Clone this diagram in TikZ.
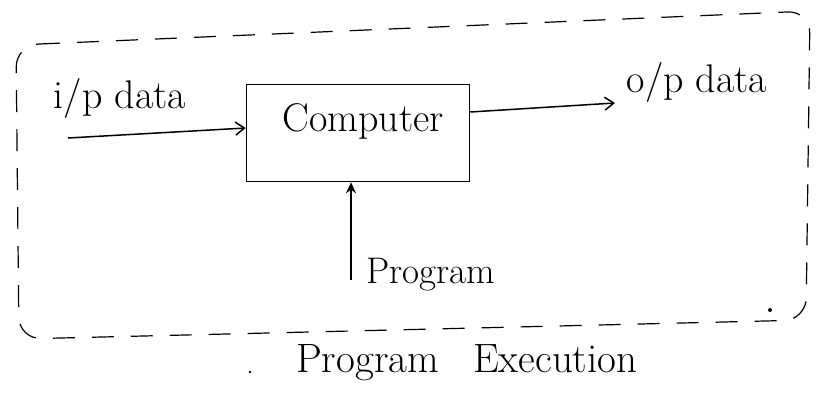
\documentclass[tikz,border=0pt]{standalone}
\usepackage{fontspec}
\usetikzlibrary{arrows.meta}
\begin{document}
\begin{tikzpicture}[x=1pt,y=-1pt,
  ink/.style={line width=1.5pt,black},
  flow/.style={ink,-{Straight Barb[length=9pt,width=13pt]}},
  prog/.style={ink,-{Stealth[length=11pt,width=10pt]}},
  boundary/.style={line width=1.2pt,dash pattern=on 22pt off 17pt,rounded corners=22pt},
  lbl/.style={font=\fontsize{40}{44}\selectfont,inner sep=0pt},
  small/.style={font=\fontsize{37}{40}\selectfont,inner sep=0pt},
  captxt/.style={font=\fontsize{41}{44}\selectfont,inner sep=0pt}]
\useasboundingbox (0,0) rectangle (818,408);
\fill[white] (0,0) rectangle (818,408);
% boundary
\draw[boundary] (16,45) -- (810,11) -- (806,320) -- (19,339) -- cycle;
% computer box
\node[ink,draw,minimum width=223pt,minimum height=97pt,inner sep=0pt] (comp) at (358,133) {};
\node[lbl,anchor=base] (comptxt) at (363,131) {Computer};
% input
\coordinate (inS) at (68,138);
\draw[flow] (inS) -- (comp.west |- 0,128);
\node[lbl,anchor=base] (ip) at (120,108) {i/p data};
% output
\coordinate (outE) at (615,103);
\draw[flow] (comp.east |- 0,112) -- (outE);
\node[lbl,anchor=base] (op) at (697,92) {o/p data};
% program
\coordinate (pS) at (351,280);
\draw[prog] (pS) -- (comp.south -| pS);
\node[small,anchor=base west] (pl) at (366,283) {Program};
% caption
\node[captxt,anchor=base west] (capt) at (296,372) {Program\hspace{34pt}Execution};
\fill (250,372) circle (1.3pt);
\fill (770,310) circle (2pt);
\end{tikzpicture}
\end{document}
